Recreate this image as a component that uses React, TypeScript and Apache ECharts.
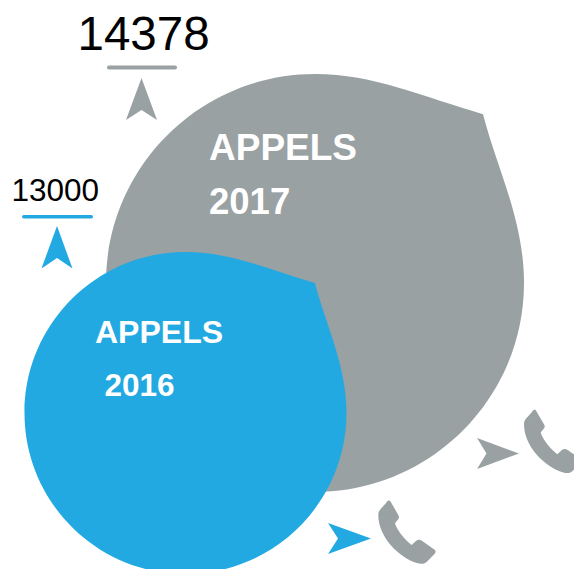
import React, { useEffect, useRef } from "react";
import * as echarts from "echarts";

const years = ["2017", "2016"];
const callTotals = ["14378", "13000"];
const metricLabel = "APPELS";

const GRAY = "#99a1a3";
const BLUE = "#22a9e2";
const FONT = '"Liberation Sans", Arial, sans-serif';

const DROP =
  "M80.4,-80.8 C87,-55 100,-30 100,0 C100,55.2 55.2,100 0,100 C-55.2,100 -100,55.2 -100,0 C-100,-55.2 -55.2,-100 0,-100 C28,-100 52,-89 80.4,-80.8 Z";
const PHONE =
  "M24,8 C28,0 35,-1 38,7 L60,45 C64,52 62,56 58,60 L50,70 C58,95 82,122 100,135 L113,123 C119,118 125,118 131,122 L167,148 C174,153 173,158 168,163 L148,183 C140,192 130,193 118,190 C60,172 0,110 0,45 C0,38 2,33 7,27 Z";

echarts.graphic.registerShape("drop", echarts.graphic.extendPath(DROP, {}));
echarts.graphic.registerShape("phone", echarts.graphic.extendPath(PHONE, {}));

function text(t: string, x: number, y: number, size: number, fill: string, bold = false) {
  return {
    type: "text",
    x,
    y,
    z: 10,
    style: {
      text: t,
      fill,
      font: `${bold ? "bold " : ""}${size}px ${FONT}`,
      textAlign: "left",
      textVerticalAlign: "middle",
    },
  };
}

export default function App() {
  const ref = useRef<HTMLDivElement>(null);
  useEffect(() => {
    document.body.style.margin = "0";
    const chart = echarts.init(ref.current!, null, { renderer: "svg" });
    chart.setOption({
      animation: false,
      graphic: {
        elements: [
          { type: "drop", x: 315, y: 283, scaleX: 2.09, scaleY: 2.09, z: 1, style: { fill: GRAY } },
          { type: "drop", x: 185.5, y: 413, scaleX: 1.61, scaleY: 1.61, z: 2, style: { fill: BLUE } },

          { type: "rect", shape: { x: 107, y: 65.5, width: 70, height: 4, r: 2 }, style: { fill: GRAY } },
          { type: "rect", shape: { x: 22, y: 215, width: 71, height: 3.5, r: 1.75 }, style: { fill: BLUE } },

          { type: "polygon", shape: { points: [[141.5, 78], [157, 120], [141.5, 110], [126, 120]] }, style: { fill: GRAY } },
          { type: "polygon", shape: { points: [[57, 226], [72.5, 268.5], [57, 258], [41.5, 268.5]] }, style: { fill: BLUE } },
          { type: "polygon", shape: { points: [[519, 453.5], [477, 469], [486.5, 453.5], [477, 438]] }, style: { fill: GRAY } },
          { type: "polygon", shape: { points: [[371, 538.5], [328, 554], [338, 538.5], [328, 523]] }, style: { fill: BLUE } },

          { type: "phone", x: 524, y: 409.3, scaleX: 1 / 3, scaleY: 1 / 3, style: { fill: GRAY } },
          { type: "phone", x: 378.3, y: 500, scaleX: 1 / 3, scaleY: 1 / 3, style: { fill: GRAY } },

          text(callTotals[0], 77.5, 33, 47.5, "#000000"),
          text(callTotals[1], 11.5, 190, 31.5, "#000000"),
          text(metricLabel, 209, 147, 37, "#ffffff", true),
          text(years[0], 209, 201, 36.5, "#ffffff", true),
          text(metricLabel, 95, 332, 32, "#ffffff", true),
          text(years[1], 104.5, 385, 31.5, "#ffffff", true),
        ],
      },
    });
    return () => chart.dispose();
  }, []);
  return <div ref={ref} style={{ position: "absolute", left: 0, top: 0, width: 574, height: 569 }} />;
}
